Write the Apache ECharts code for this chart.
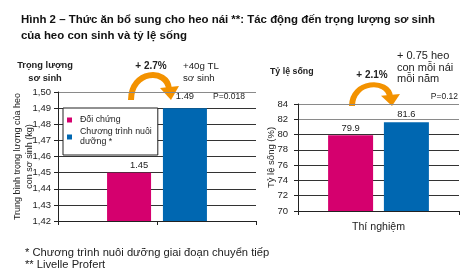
<!DOCTYPE html>
<html><head><meta charset="utf-8">
<script src="https://cdn.jsdelivr.net/npm/echarts@6/dist/echarts.min.js"></script>
<style>html,body{margin:0;padding:0;background:#fff}#c{width:469px;height:272px}</style>
</head><body><div id="c"></div>
<script>
// ---- data ----
const seriesNames = ['Đối chứng', 'Chương trình nuôi dưỡng *'];
const birthWeight = [1.45, 1.49];          // kg
const survivalRate = [79.9, 81.6];         // %
const weightAxis = [1.42, 1.50, 0.01];     // min, max, interval
const survivalAxis = [70, 84, 2];
const rightCategories = ['Thí nghiệm'];
const titleText = 'Hình 2 – Thức ăn bổ sung cho heo nái **: Tác động đến trọng lượng sơ sinh\ncủa heo con sinh và tỷ lệ sống';
const footnotes = '* Chương trình nuôi dưỡng giai đoạn chuyển tiếp\n** Livelle Profert';
const leftNote = ['+ 2.7%', '+40g TL\nsơ sinh', 'P=0.018'];
const rightNote = ['+ 2.1%', '+ 0.75 heo\ncon mỗi nái\nmỗi năm', 'P=0.12'];

const MAG = '#D5006E', BLUE = '#0067B1', ORANGE = '#F39200';
const FONT = '"Liberation Sans", Arial, sans-serif';

function arrow(x, y, sy) {
  return {
    type: 'group', x: x, y: y, scaleY: sy || 1, z: 20,
    children: [
      { type: 'bezierCurve', shape: { x1: 0, y1: 0, cpx1: 0, cpy1: -30, cpx2: 36, cpy2: -32, x2: 38, y2: -11 },
        style: { stroke: ORANGE, lineWidth: 6, fill: null } },
      { type: 'polygon', shape: { points: [[29, -12], [48, -14], [40, 0]] }, style: { fill: ORANGE } }
    ]
  };
}
function txt(x, y, text, opts) {
  return Object.assign({ type: 'text', x: x, y: y, z: 20,
    style: Object.assign({ text: text, font: '11px ' + FONT, fill: '#222', textVerticalAlign: 'middle' }, opts || {}) });
}

const splitDark = '#333', splitGray = '#8a8a8a';
const chart = echarts.init(document.getElementById('c'), null, { renderer: 'canvas' });
chart.setOption({
  backgroundColor: '#fff',
  animation: false,
  textStyle: { fontFamily: FONT },
  title: [
    { text: titleText, left: 16, top: 7,
      textStyle: { fontSize: 11.45, fontWeight: 'bold', color: '#111', lineHeight: 16, fontFamily: FONT } },
    { text: footnotes, left: 20, top: 241.5,
      textStyle: { fontSize: 11.2, fontWeight: 'normal', color: '#222', lineHeight: 12.5, fontFamily: FONT } }
  ],
  legend: {
    left: 63, top: 108, orient: 'vertical',
    data: [
      { name: seriesNames[0], textStyle: { padding: [0, 0, 0, 3] } },
      { name: seriesNames[1], textStyle: { padding: [10, 0, 0, 3] } }
    ],
    formatter: n => n === seriesNames[1] ? 'Chương trình nuôi\ndưỡng *' : n,
    icon: 'rect', itemWidth: 5, itemHeight: 5, itemGap: -3,
    padding: [7, 6, 3, 4],
    backgroundColor: '#fff', borderColor: '#222', borderWidth: 1,
    textStyle: { fontSize: 8.8, lineHeight: 10, color: '#222', fontFamily: FONT }
  },
  grid: [
    { left: 58, top: 92, width: 198, height: 129 },
    { left: 298, top: 104, width: 161, height: 107 }
  ],
  xAxis: [
    { type: 'category', gridIndex: 0, position: 'bottom', data: [''], show: false },
    { type: 'category', gridIndex: 0, position: 'bottom', data: ['', ''],
      axisLine: { lineStyle: { color: '#222', width: 1 } },
      axisTick: { show: true, length: 4, lineStyle: { color: '#222' } },
      axisLabel: { show: false } },
    { type: 'category', gridIndex: 1, position: 'bottom', data: rightCategories,
      axisLine: { lineStyle: { color: '#222', width: 1 } },
      axisTick: { show: true, length: 4, lineStyle: { color: '#222' } },
      axisLabel: { fontSize: 10.6, color: '#222', margin: 11, fontFamily: FONT } }
  ],
  yAxis: [
    { type: 'value', gridIndex: 0, min: weightAxis[0], max: weightAxis[1], interval: weightAxis[2],
      name: 'Trung bình trọng lượng của heo\ncon sơ sinh (kg)', nameLocation: 'middle', nameGap: 23,
      nameMoveOverlap: false,
      nameTextStyle: { fontSize: 9, lineHeight: 11.5, color: '#222', fontFamily: FONT },
      axisLine: { show: true, lineStyle: { color: '#222' } },
      axisTick: { show: true, length: 4, lineStyle: { color: '#222' } },
      axisLabel: { fontSize: 9.5, color: '#222', margin: 7, formatter: v => v.toFixed(2).replace('.', ','), fontFamily: FONT },
      splitLine: { show: true, lineStyle: { color: [splitDark, splitDark, splitDark, splitDark, splitDark, splitDark, splitDark, splitDark, splitGray], width: 1 } } },
    { type: 'value', gridIndex: 1, min: survivalAxis[0], max: survivalAxis[1], interval: survivalAxis[2],
      name: 'Tỷ lệ sống (%)', nameLocation: 'middle', nameGap: 22,
      nameMoveOverlap: false,
      nameTextStyle: { fontSize: 9.5, color: '#222', fontFamily: FONT },
      axisLine: { show: true, lineStyle: { color: '#222' } },
      axisTick: { show: true, length: 4, lineStyle: { color: '#222' } },
      axisLabel: { fontSize: 9.5, color: '#222', margin: 10, fontFamily: FONT },
      splitLine: { show: true, lineStyle: { color: [splitDark, splitDark, splitDark, splitDark, splitDark, splitDark, splitGray, splitGray], width: 1 } } }
  ],
  series: [
    { type: 'bar', name: seriesNames[0], xAxisIndex: 0, yAxisIndex: 0, data: [birthWeight[0]],
      barWidth: 44, barGap: '27%', itemStyle: { color: MAG },
      label: { show: true, position: 'top', distance: 3, offset: [10, 0], fontSize: 9.4, color: '#222', formatter: p => p.value.toFixed(2) } },
    { type: 'bar', name: seriesNames[1], xAxisIndex: 0, yAxisIndex: 0, data: [birthWeight[1]],
      barWidth: 44, barGap: '27%', itemStyle: { color: BLUE },
      label: { show: true, position: 'top', distance: 7, fontSize: 9.4, color: '#222', formatter: p => p.value.toFixed(2) } },
    { type: 'bar', name: seriesNames[0], xAxisIndex: 2, yAxisIndex: 1, data: [survivalRate[0]],
      barWidth: 45, barGap: '24%', itemStyle: { color: MAG },
      label: { show: true, position: 'top', distance: 2, fontSize: 9.4, color: '#222', formatter: p => p.value.toFixed(1) } },
    { type: 'bar', name: seriesNames[1], xAxisIndex: 2, yAxisIndex: 1, data: [survivalRate[1]],
      barWidth: 45, barGap: '24%', itemStyle: { color: BLUE },
      label: { show: true, position: 'top', distance: 3, fontSize: 9.4, color: '#222', formatter: p => p.value.toFixed(1) } }
  ],
  graphic: [
    txt(45, 71.5, 'Trọng lượng\nsơ sinh', { font: 'bold 9.3px ' + FONT, textAlign: 'center', lineHeight: 13 }),
    txt(270, 72, 'Tỷ lệ sống', { font: 'bold 8.8px ' + FONT }),
    arrow(131, 100, 1),
    arrow(352, 106, 0.85),
    txt(151, 66, leftNote[0], { font: 'bold 10px ' + FONT, textAlign: 'center' }),
    txt(183, 72, leftNote[1], { font: '9.7px ' + FONT, lineHeight: 12 }),
    txt(213, 97, leftNote[2], { font: '8.5px ' + FONT }),
    txt(372, 75, rightNote[0], { font: 'bold 10px ' + FONT, textAlign: 'center' }),
    txt(397, 67.5, rightNote[1], { font: '11px ' + FONT, lineHeight: 11.5 }),
    txt(458, 97, rightNote[2], { font: '8.5px ' + FONT, textAlign: 'right' })
  ]
});
</script></body></html>
